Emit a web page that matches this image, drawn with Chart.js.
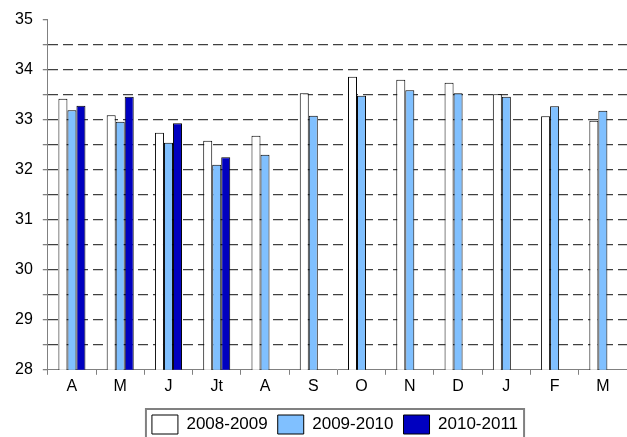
<!DOCTYPE html>
<html>
<head>
<meta charset="utf-8">
<script src="https://cdn.jsdelivr.net/npm/chart.js@4/dist/chart.umd.min.js"></script>
<style>
  body { margin: 0; background: #fff; }
  canvas { display: block; }
</style>
</head>
<body>
<canvas id="temp_chart" width="627" height="437"></canvas>
<script>
const months = ["A", "M", "J", "Jt", "A", "S", "O", "N", "D", "J", "F", "M"];
const seriesNames = ["2008-2009", "2009-2010", "2010-2011"];
const values0809 = [33.42, 33.09, 32.74, 32.58, 32.68, 33.53, 33.86, 33.80, 33.74, 33.51, 33.07, 32.98];
const values0910 = [33.19, 32.96, 32.54, 32.10, 32.30, 33.08, 33.48, 33.59, 33.53, 33.46, 33.27, 33.18];
const values1011 = [33.28, 33.46, 32.93, 32.25, null, null, null, null, null, null, null, null];
const fillColors = ["#ffffff", "#80c0ff", "#0000c0"];
const cxt = document.getElementById("temp_chart");

// move the legend a bit (right and down), as in the original sheet
const legendShift = {
  id: "legendShift",
  afterLayout(chart) {
    const lg = chart.legend;
    lg.left += 19;
    lg.right += 19;
    lg.top += 7;
    lg.bottom += 7;
  },
};

// draws the frame round the legend
const legendFrame = {
  id: "legendFrame",
  afterDraw(chart) {
    const boxes = chart.legend.legendHitBoxes;
    if (!boxes || !boxes.length) return;
    const first = boxes[0];
    const last = boxes[boxes.length - 1];
    const ctx = chart.ctx;
    ctx.save();
    ctx.strokeStyle = "#808080";
    ctx.lineWidth = 2;
    ctx.strokeRect(first.left - 6, first.top - 6, last.left + last.width - first.left + 12, 60);
    ctx.restore();
  },
};

const makeSet = (label, data, color) => ({
  label: label,
  data: data,
  backgroundColor: color,
  borderColor: "#000000",
  borderWidth: 1,
  categoryPercentage: 0.56,
  barPercentage: 1.0,
});

new Chart(cxt, {
  type: "bar",
  data: {
    labels: months,
    datasets: [
      makeSet(seriesNames[0], values0809, fillColors[0]),
      makeSet(seriesNames[1], values0910, fillColors[1]),
      makeSet(seriesNames[2], values1011, fillColors[2]),
    ],
  },
  options: {
    responsive: false,
    animation: false,
    devicePixelRatio: 1,
    layout: { padding: { left: 5, right: 0, top: 8, bottom: 0 } },
    plugins: {
      tooltip: { enabled: false },
      legend: {
        position: "bottom",
        labels: {
          color: "#000",
          font: { family: "Liberation Sans, Arial", size: 17 },
          boxWidth: 26,
          boxHeight: 19,
          padding: 10,
        },
      },
    },
    scales: {
      x: {
        grid: {
          drawOnChartArea: false,
          tickLength: 5,
          tickColor: "#808080",
        },
        border: { color: "#808080", width: 1 },
        ticks: {
          color: "#000",
          font: { family: "Liberation Sans, Arial", size: 16 },
          padding: 2,
        },
      },
      y: {
        min: 28,
        max: 35,
        grid: {
          color: (c) => (c.tick && (c.tick.value === 35 || c.tick.value === 28) ? "rgba(0,0,0,0)" : "#404040"),
          lineWidth: 1.3,
          tickLength: 5,
          tickColor: "#808080",
        },
        border: { color: "#808080", width: 1, dash: [10, 5] },
        ticks: {
          stepSize: 0.5,
          color: "#000",
          font: { family: "Liberation Sans, Arial", size: 16 },
          padding: 10,
          callback: (v) => (Number.isInteger(v) ? v : ""),
        },
      },
    },
  },
  plugins: [legendShift, legendFrame],
});
</script>
</body>
</html>
